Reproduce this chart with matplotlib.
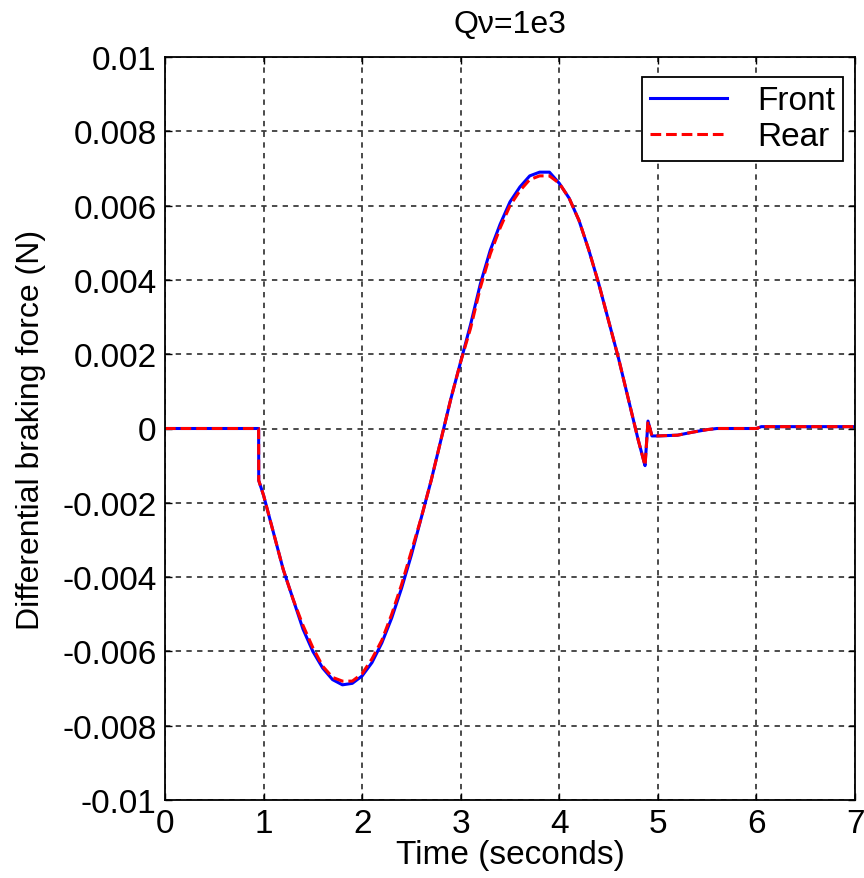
import matplotlib
matplotlib.use('Agg')
import matplotlib.pyplot as plt
import numpy as np
from matplotlib.ticker import FuncFormatter

plt.rcParams['font.family'] = ['Liberation Sans', 'DejaVu Sans']

# Differential braking force, front and rear axles (Qv = 1e3)
t_front = [0.0, 0.95, 0.951, 1.0, 1.1, 1.2, 1.3, 1.4, 1.5, 1.6, 1.7, 1.8, 1.9,
           2.0, 2.1, 2.2, 2.3, 2.4, 2.5, 2.6, 2.7, 2.8, 2.9, 3.0, 3.1, 3.2,
           3.3, 3.4, 3.5, 3.6, 3.7, 3.8, 3.9, 4.0, 4.1, 4.2, 4.3, 4.4, 4.5,
           4.6, 4.7, 4.8, 4.87, 4.875, 4.9, 4.94, 5.0, 5.2, 5.35, 5.5, 5.6,
           6.0, 6.05, 7.0]
f_front = [0.0, 0.0, -0.0014, -0.0018, -0.0028, -0.0038, -0.0046, -0.0054,
           -0.0060, -0.00645, -0.00676, -0.0069, -0.00686, -0.00666, -0.0063,
           -0.00577, -0.0051, -0.0043, -0.0034, -0.0024, -0.0014, -0.0003,
           0.0008, 0.0018, 0.0028, 0.0039, 0.0048, 0.0055, 0.0061, 0.0065,
           0.0068, 0.0069, 0.0069, 0.0066, 0.0062, 0.0056, 0.0048, 0.0039,
           0.0029, 0.0019, 0.0008, -0.0003, -0.0010, -0.0008, 0.0002, -0.0002,
           -0.0002, -0.00018, -0.0001, -0.00003, 0.0, 0.0, 0.00005, 0.00005]

t_rear = t_front
f_rear = [0.0, 0.0, -0.0014, -0.0018, -0.0028, -0.0038, -0.0046, -0.0053,
          -0.0059, -0.0064, -0.0067, -0.0068, -0.0068, -0.0066, -0.0062,
          -0.0057, -0.0050, -0.0042, -0.0033, -0.0024, -0.0014, -0.0003,
          0.0008, 0.0018, 0.0027, 0.0038, 0.0047, 0.0054, 0.0060, 0.0064,
          0.0067, 0.0068, 0.0068, 0.0066, 0.0062, 0.0056, 0.0048, 0.0039,
          0.0029, 0.0019, 0.0008, -0.0003, -0.0010, -0.0008, 0.0002, -0.0002,
          -0.0002, -0.00018, -0.0001, -0.00003, 0.0, 0.0, 0.00005, 0.00005]

fig = plt.figure(figsize=(8.64, 8.79), dpi=100)
ax = fig.add_axes([165/864, 1-801/879, 690/864, 743/879])

ax.plot(t_front, f_front, color='#0000ff', linewidth=2.2, label='Front')
ax.plot(t_rear, f_rear, color='#ff0000', linewidth=2.2,
        linestyle=(0, (3.5, 1.6)), label='Rear')

ax.set_xlim(0, 7)
ax.set_ylim(-0.01, 0.01)
ax.set_xticks(np.arange(0, 8, 1))
ax.set_yticks(np.linspace(-0.01, 0.01, 11))
ax.yaxis.set_major_formatter(FuncFormatter(lambda v, p: '%g' % round(v, 6)))

ax.grid(True, color='#1a1a1a', linestyle=(0, (3.5, 3.5)), linewidth=1.1)
ax.tick_params(direction='in', length=5, width=1, top=True, right=True,
               labelsize=24, pad=6)
for s in ax.spines.values():
    s.set_linewidth(1.3)

ax.set_title('Q\u03bd=1e3', fontsize=23, pad=18)
ax.set_xlabel('Time (seconds)', fontsize=24, labelpad=0)
ax.set_ylabel('Differential braking force (N)', fontsize=23, labelpad=12)

leg = ax.legend(loc='upper right', bbox_to_anchor=(0.983, 0.973),
                fontsize=24, fancybox=False, framealpha=1,
                edgecolor='black', handlelength=2.3, borderpad=0.25,
                labelspacing=0.15, handletextpad=0.9, borderaxespad=0)
leg.get_frame().set_linewidth(1.3)

fig.savefig('out.png', dpi=100)
